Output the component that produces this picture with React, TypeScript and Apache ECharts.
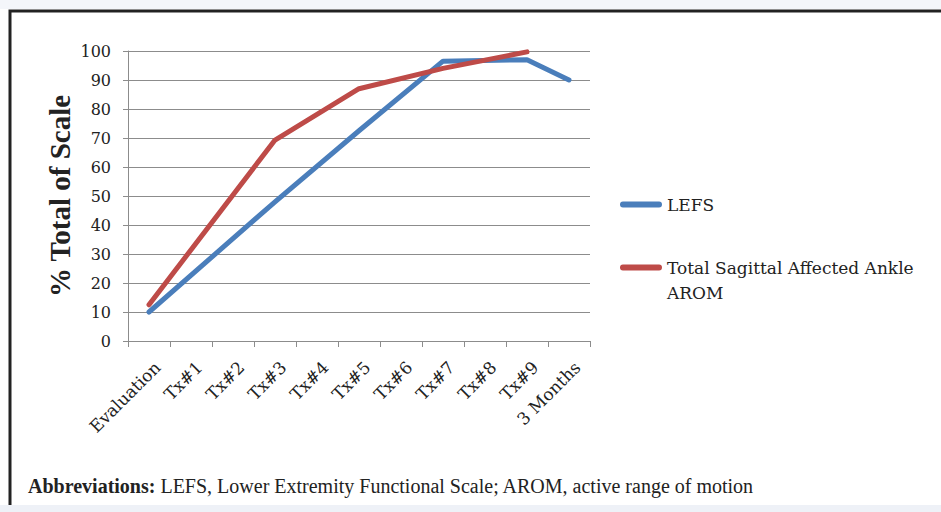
import React, { useEffect, useRef } from "react";
import * as echarts from "echarts";

const categories = ["Evaluation", "Tx#1", "Tx#2", "Tx#3", "Tx#4", "Tx#5", "Tx#6", "Tx#7", "Tx#8", "Tx#9", "3 Months"];
const lefs = [10, null, null, 48, null, 72.5, null, 96.5, null, 97, 90];
const arom = [12.5, null, null, 69.3, null, 87, null, 94, null, 99.7, null];
const seriesNames = ["LEFS", "Total Sagittal Affected Ankle AROM"];
const yTicks = { min: 0, max: 100, interval: 10 };

const SERIF = "'Liberation Serif', serif";
const WIDE = "'DejaVu Serif', serif";
const PILL = "path://M3,0 L40,0 A3,3 0 0 1 40,6 L3,6 A3,3 0 0 1 3,0 Z";

export default function App() {
  const ref = useRef<HTMLDivElement>(null);
  useEffect(() => {
    if (!ref.current) return;
    const chart = echarts.init(ref.current, null, { renderer: "svg" });
    chart.setOption({
      animation: false,
      backgroundColor: "#ffffff",
      grid: { left: 128, right: 351, top: 51, bottom: 171, containLabel: false },
      legend: {
        orient: "vertical",
        left: 620,
        top: 196,
        padding: 0,
        itemWidth: 42,
        itemHeight: 6,
        itemGap: 46,
        icon: PILL,
        data: seriesNames,
        formatter: (n: string) => (n === seriesNames[1] ? "Total Sagittal Affected Ankle" : n),
        textStyle: { fontFamily: WIDE, fontSize: 17, color: "#222" },
        selectedMode: false,
      },
      xAxis: {
        type: "category",
        data: categories,
        boundaryGap: true,
        axisLine: { show: true, lineStyle: { color: "#8c8c8c", width: 1 } },
        axisTick: { show: true, length: 6, alignWithLabel: false, lineStyle: { color: "#8c8c8c" } },
        axisLabel: {
          rotate: 45,
          fontFamily: WIDE,
          fontSize: 17,
          lineHeight: 24,
          color: "#222",
          margin: 15,
          interval: 0,
          align: "right",
          verticalAlign: "top",
        },
        splitLine: { show: false },
      },
      yAxis: {
        type: "value",
        min: yTicks.min,
        max: yTicks.max,
        interval: yTicks.interval,
        name: "% Total of Scale",
        nameLocation: "middle",
        nameRotate: 90,
        nameGap: 54,
        nameTextStyle: { fontFamily: SERIF, fontSize: 29, fontWeight: "bold", color: "#222" },
        axisLine: { show: true, lineStyle: { color: "#8c8c8c", width: 1 } },
        axisTick: { show: true, length: 5, lineStyle: { color: "#8c8c8c" } },
        axisLabel: { fontFamily: WIDE, fontSize: 16, color: "#222", margin: 17 },
        splitLine: { show: true, lineStyle: { color: "#8c8c8c", width: 1 } },
      },
      series: [
        {
          name: seriesNames[0],
          type: "line",
          data: lefs,
          connectNulls: true,
          showSymbol: false,
          symbol: "none",
          color: "#4a7ebb",
          lineStyle: { width: 5, color: "#4a7ebb", cap: "round", join: "round" },
          z: 2,
        },
        {
          name: seriesNames[1],
          type: "line",
          data: arom,
          connectNulls: true,
          showSymbol: false,
          symbol: "none",
          color: "#be4b48",
          lineStyle: { width: 5, color: "#be4b48", cap: "round", join: "round" },
          z: 3,
        },
      ],
      graphic: [
        { type: "rect", shape: { x: 0, y: 0, width: 941, height: 9 }, style: { fill: "#f4f6fa" }, silent: true, z: -1 },
        {
          type: "rect",
          shape: { x: 10, y: 11, width: 960, height: 520 },
          style: { fill: "none", stroke: "#222", lineWidth: 3 },
          silent: true,
          z: 10,
        },
        { type: "rect", shape: { x: 0, y: 505, width: 941, height: 7 }, style: { fill: "#eef1f7" }, silent: true, z: 11 },
        {
          type: "text",
          x: 667,
          y: 293,
          style: { text: "AROM", font: `17px ${WIDE}`, fill: "#222", verticalAlign: "middle", align: "left" },
          silent: true,
        },
        {
          type: "text",
          x: 28,
          y: 486,
          style: {
            text: "{b|Abbreviations:} LEFS, Lower Extremity Functional Scale; AROM, active range of motion",
            font: `20px ${SERIF}`,
            fill: "#222",
            verticalAlign: "middle",
            align: "left",
            rich: { b: { fontWeight: "bold", fontFamily: SERIF, fontSize: 20, fill: "#222" } },
          },
          silent: true,
        },
      ],
    });
    return () => chart.dispose();
  }, []);
  return <div ref={ref} style={{ position: "absolute", left: 0, top: 0, width: 941, height: 512 }} />;
}
